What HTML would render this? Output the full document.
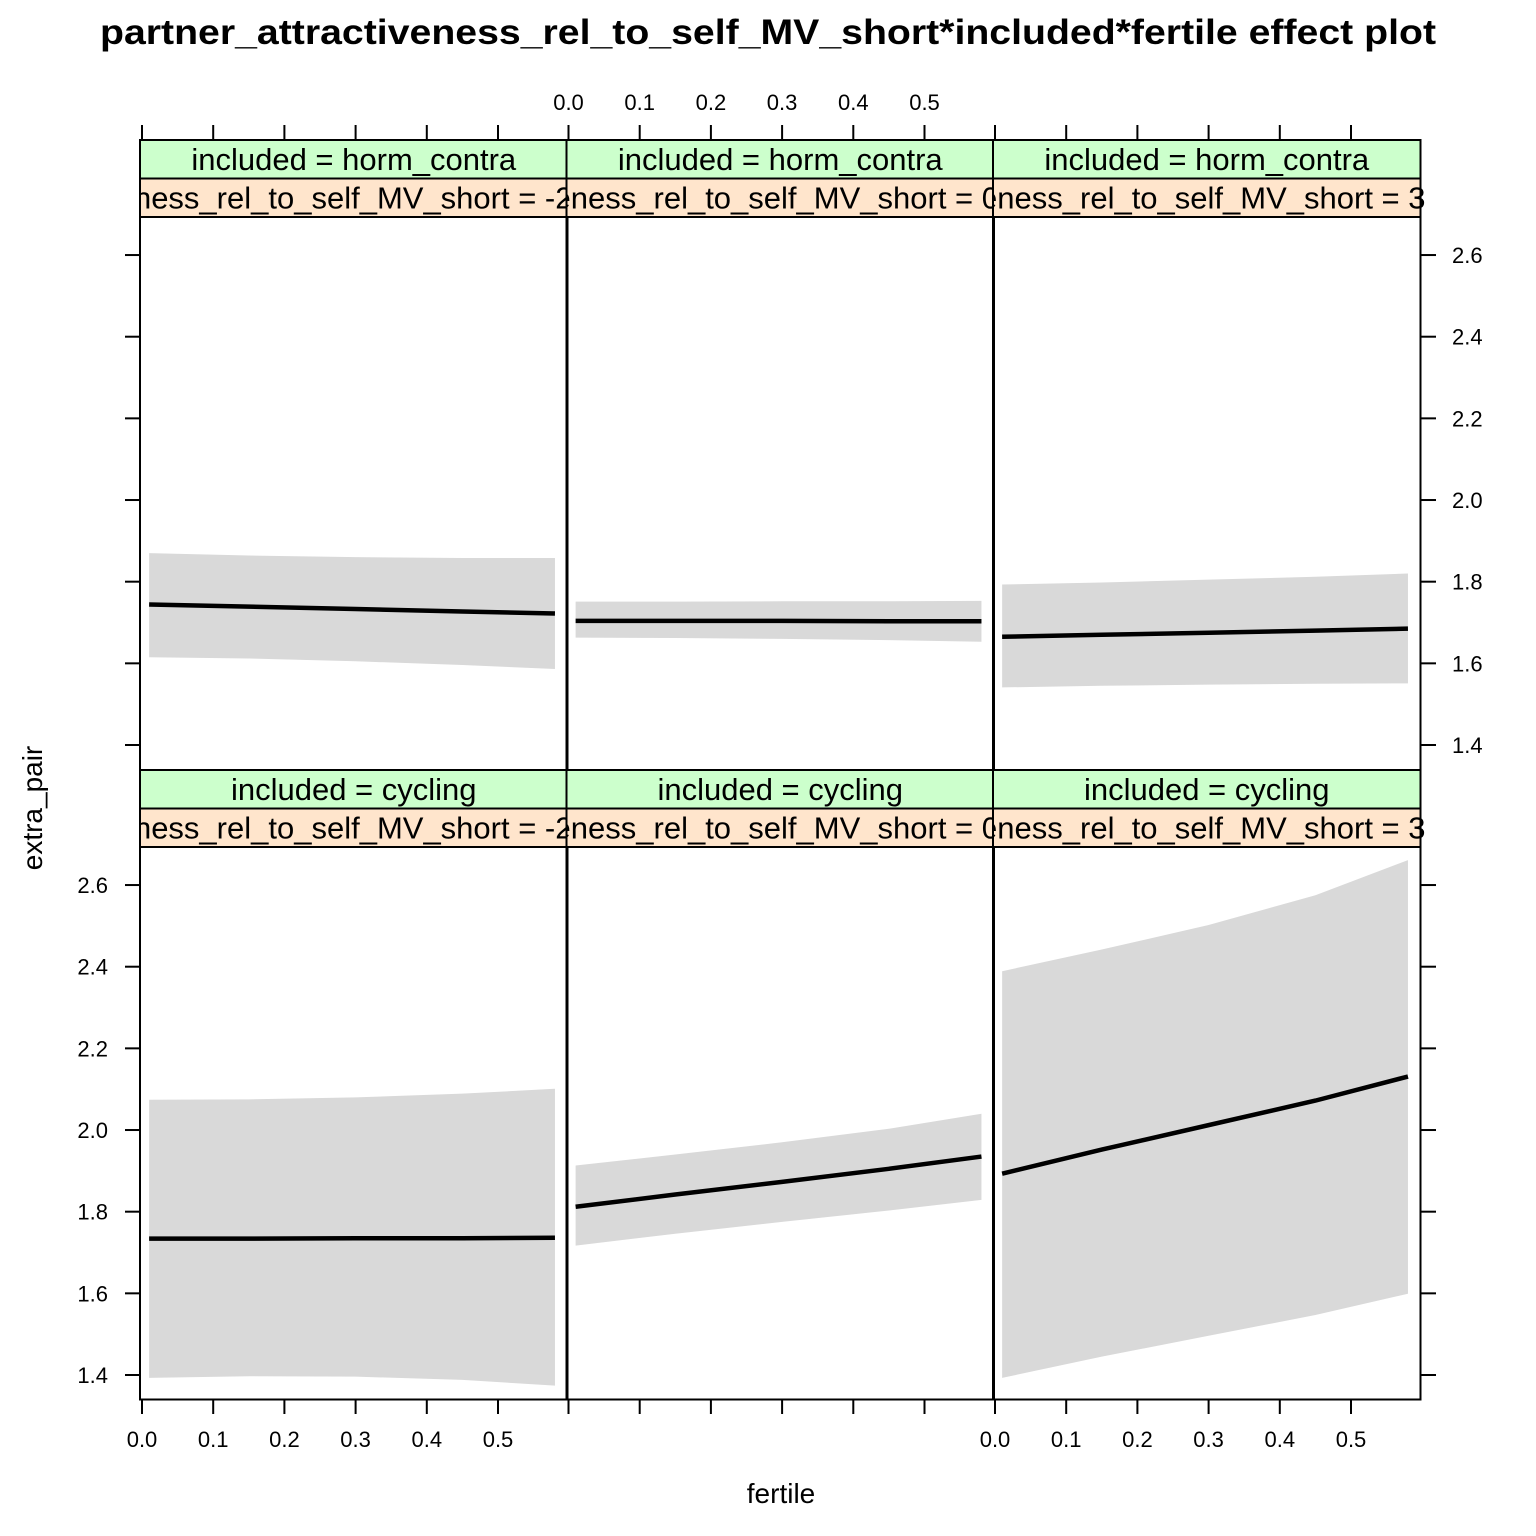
<!DOCTYPE html>
<html><head><meta charset="utf-8"><style>
html,body{margin:0;padding:0;background:#fff;}
svg{display:block;font-family:"Liberation Sans",Arial,sans-serif;}
</style></head><body>
<svg id="chart" width="1536" height="1536" viewBox="0 0 1536 1536" xmlns="http://www.w3.org/2000/svg">
<text x="768" y="44" text-anchor="middle" font-size="35" font-weight="bold" textLength="1336" lengthAdjust="spacingAndGlyphs">partner_attractiveness_rel_to_self_MV_short*included*fertile effect plot</text>
<text x="781" y="1503" text-anchor="middle" font-size="28">fertile</text>
<text transform="translate(42,808) rotate(-90)" text-anchor="middle" font-size="28">extra_pair</text>
<g id="panels"></g>
</svg>
<script>
const xTicks = [0.0, 0.1, 0.2, 0.3, 0.4, 0.5];
const yTicks = [1.4, 1.6, 1.8, 2.0, 2.2, 2.4, 2.6];
const includedLevels = ["horm_contra", "cycling"];
const attrLevels = ["-2", "0", "3"];
const xs = [0.01, 0.15, 0.3, 0.45, 0.58];
const fitHC = [[1.744, 1.739, 1.733, 1.727, 1.722], [1.704, 1.704, 1.704, 1.703, 1.703], [1.665, 1.670, 1.675, 1.680, 1.685]];
const upperHC = [[1.870, 1.864, 1.860, 1.858, 1.858], [1.751, 1.751, 1.752, 1.752, 1.753], [1.793, 1.798, 1.805, 1.812, 1.820]];
const lowerHC = [[1.615, 1.612, 1.605, 1.596, 1.586], [1.663, 1.662, 1.660, 1.657, 1.653], [1.541, 1.545, 1.548, 1.550, 1.551]];
const fitCY = [[1.734, 1.734, 1.735, 1.735, 1.736], [1.812, 1.842, 1.873, 1.905, 1.935], [1.893, 1.952, 2.012, 2.072, 2.131]];
const upperCY = [[2.074, 2.075, 2.080, 2.089, 2.101], [1.913, 1.940, 1.970, 2.003, 2.040], [2.389, 2.442, 2.502, 2.575, 2.661]];
const lowerCY = [[1.393, 1.397, 1.396, 1.388, 1.374], [1.717, 1.746, 1.775, 1.803, 1.829], [1.393, 1.445, 1.496, 1.547, 1.599]];

const NS = "http://www.w3.org/2000/svg";
const g = document.getElementById("panels");
const colX = [140, 566.5, 993], colW = 427.5;
const rowTop = [140, 770];
const stripH = 38.5;
const panelBottom = [770, 1399.5];
function sx(c, v) { return colX[c] + 2 + v * 712; }
function sy(r, v) { return (r === 0 ? 745 : 1375) - (v - 1.4) * 408.3; }
function el(tag, attrs, parent) {
  const e = document.createElementNS(NS, tag);
  for (const k in attrs) e.setAttribute(k, attrs[k]);
  (parent || g).appendChild(e);
  return e;
}
const defs = el("defs", {});
const fits = [fitHC, fitCY], ups = [upperHC, upperCY], lows = [lowerHC, lowerCY];
for (let r = 0; r < 2; r++) {
  for (let c = 0; c < 3; c++) {
    const x0 = colX[c], top = rowTop[r], pTop = top + 2 * stripH, bot = panelBottom[r];
    const cp = el("clipPath", { id: "cp" + r + c }, defs);
    el("rect", { x: x0, y: pTop, width: colW, height: bot - pTop }, cp);
    const cs = el("clipPath", { id: "cs" + r + c }, defs);
    el("rect", { x: x0, y: top, width: colW + 7, height: 2 * stripH }, cs);
    let pts = [];
    for (let i = 0; i < xs.length; i++) pts.push(sx(c, xs[i]) + "," + sy(r, ups[r][c][i]));
    for (let i = xs.length - 1; i >= 0; i--) pts.push(sx(c, xs[i]) + "," + sy(r, lows[r][c][i]));
    const band = el("polygon", { points: pts.join(" "), fill: "#d9d9d9", "clip-path": "url(#cp" + r + c + ")" });
    
    
    let lp = [];
    for (let i = 0; i < xs.length; i++) lp.push(sx(c, xs[i]) + "," + sy(r, fits[r][c][i]));
    const line = el("polyline", { points: lp.join(" "), fill: "none", stroke: "#000", "stroke-width": 4.5 });
    
    
    const s1 = el("rect", { x: x0, y: top, width: colW, height: stripH, fill: "#ccffcc", stroke: "#000", "stroke-width": 2 });
    
    
    const s2 = el("rect", { x: x0, y: top + stripH, width: colW, height: stripH, fill: "#ffe5cc", stroke: "#000", "stroke-width": 2 });
    
    
    const t1 = el("text", { x: x0 + colW / 2, y: top + 30, "text-anchor": "middle", "font-size": 31 });
    t1.textContent = "included = " + includedLevels[r];
    
    
    const t2 = el("text", { x: x0 + colW + 5, y: top + stripH + 30, "text-anchor": "end", "font-size": 31, "clip-path": "url(#cs" + r + c + ")" });
    t2.textContent = "partner_attractiveness_rel_to_self_MV_short = " + attrLevels[c];
    
    
    el("rect", { x: x0, y: top, width: colW, height: bot - top, fill: "none", stroke: "#000", "stroke-width": 2 });
  }
}
for (let c = 0; c < 3; c++) {
  xTicks.forEach(v => {
    const x = sx(c, v);
    el("line", { x1: x, x2: x, y1: 125, y2: 140, stroke: "#000", "stroke-width": 2 });
    el("line", { x1: x, x2: x, y1: 1399.5, y2: 1414, stroke: "#000", "stroke-width": 2 });
    if (c === 1) {
      const t = el("text", { x: x, y: 110, "text-anchor": "middle", "font-size": 22 });
      t.textContent = v.toFixed(1);
      
      
    }
    if (c !== 1) {
      const t = el("text", { x: x, y: 1447, "text-anchor": "middle", "font-size": 22 });
      t.textContent = v.toFixed(1);
      
      
    }
  });
}
for (let r = 0; r < 2; r++) {
  yTicks.forEach(v => {
    const y = sy(r, v);
    el("line", { x1: 125, x2: 140, y1: y, y2: y, stroke: "#000", "stroke-width": 2 });
    el("line", { x1: 1420.5, x2: 1436, y1: y, y2: y, stroke: "#000", "stroke-width": 2 });
    if (r === 1) {
      const t = el("text", { x: 108, y: y + 8, "text-anchor": "end", "font-size": 22 });
      t.textContent = v.toFixed(1);
      
      
    } else {
      const t = el("text", { x: 1452, y: y + 8, "text-anchor": "start", "font-size": 22 });
      t.textContent = v.toFixed(1);
      
      
    }
  });
}
</script>
</body></html>
